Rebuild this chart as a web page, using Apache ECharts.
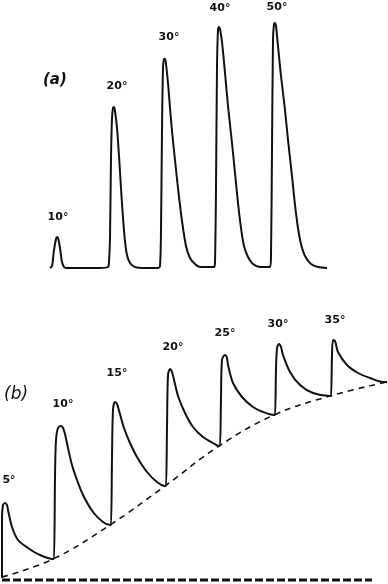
<!DOCTYPE html>
<html><head><meta charset="utf-8">
<script src="https://cdn.jsdelivr.net/npm/echarts@6/dist/echarts.min.js"></script>
<style>html,body{margin:0;padding:0;background:#fff}#c{width:388px;height:584px}</style>
</head><body><div id="c"></div>
<script>
// Panel (a): time vs. response above baseline
const traceA_t = [50,52,54,56,57,58,60,62,64,66,80,100,108,
  109,110,111,112,113,114,115,117,119,121,123,125,127,130,135,145,158,
  160,161,162,163,164,165,166,168,170,172,175,178,182,186,190,195,200,214,
  215,216,217,218,219,220,222,225,228,232,235,238,241,244,248,253,260,270,
  271,272,273,274,275,276,277,279,281,285,288,292,295,298,301,305,311,318,327];
const traceA_r = [0,2,18,29,31,30,20,6,1,0,0,0,1,
  6,30,110,150,160,161,157,140,112,80,50,27,13,5,1,0,0,
  2,38,138,200,209,209,204,185,160,137,108,80,47,22,10,4,1,1,
  6,80,200,238,241,239,226,195,162,125,95,65,40,22,11,4,1,1,
  13,118,228,244,245,242,232,212,192,158,128,92,63,40,24,12,4,1,0];
const labelsA = ['10°','20°','30°','40°','50°'];
const labelA_t = [58,117,169,220,277];
const labelA_r = [51,182,231,260,261];

// Panel (b): time vs. response above lower dashed base
const traceB_t = [2,2,3,5,7,8,12,18,28,40,53,
  54,55,56,58,61,63,65,68,72,77,83,93,103,110,
  111,112,113,115,117,120,124,130,137,147,157,165,
  166,167,168,170,172,175,178,185,193,203,213,219,
  220,221,222,225,227,228,233,242,253,263,274,
  275,276,277,279,281,283,290,300,313,330,
  331,332,333,335,338,347,358,370,383,387];
const traceB_r = [0,58,73,75,73,68,51,38,30,23,19,
  19,100,138,150,152,150,144,130,113,98,83,66,56,53,
  53,120,168,176,174,164,150,135,121,106,96,92,
  92,150,203,209,206,194,182,165,151,141,135,132,
  132,180,218,223,220,213,195,181,171,166,163,
  163,208,230,234,231,223,206,193,185,182,
  182,223,238,237,226,213,205,200,196,196];
const baseB_t = [2,53,110,165,219,274,330,387];
const baseB_r = [1,19,53,92,132,163,182,196];
const floorB_t = [2,372];
const floorB_r = [-2,-2];
const labelsB = ['5°','10°','15°','20°','25°','30°','35°'];
const labelB_t = [9,63,117,173,225,278,335];
const labelB_r = [98,174,205,231,245,254,258];

const zip = (a,b) => a.map((v,i)=>[v,b[i]]);
const ink = '#111';
const chart = echarts.init(document.getElementById('c'), null, {renderer:'canvas'});
const hiddenAxis = (gi, min, max) => ({gridIndex:gi, type:'value', min, max, show:false});
const lab = {show:true, position:'inside', formatter:'{b}', color:ink, fontSize:11, fontWeight:'bold', fontFamily:'DejaVu Sans'};
chart.setOption({
  animation:false,
  backgroundColor:'#fff',
  grid:[{left:0, top:0, width:388, height:268},{left:0, top:0, width:388, height:578}],
  xAxis:[hiddenAxis(0,0,388), hiddenAxis(1,0,388)],
  yAxis:[hiddenAxis(0,0,268), hiddenAxis(1,0,578)],
  graphic:[
    {type:'text', left:43, top:73, style:{text:'(a)', font:'italic bold 15px "DejaVu Sans"', fill:ink}},
    {type:'text', left:4, top:386, style:{text:'(b)', font:'italic 17px "DejaVu Sans"', fill:ink}}
  ],
  series:[
    {type:'line', xAxisIndex:0, yAxisIndex:0, data:zip(traceA_t,traceA_r), smooth:0.3, symbol:'none',
     lineStyle:{color:ink, width:2}},
    {type:'scatter', xAxisIndex:0, yAxisIndex:0, symbolSize:0, itemStyle:{opacity:1},
     data:labelsA.map((n,i)=>({name:n, value:[labelA_t[i],labelA_r[i]]})), label:lab},
    {type:'line', xAxisIndex:1, yAxisIndex:1, data:zip(traceB_t,traceB_r), smooth:0.3, symbol:'none',
     lineStyle:{color:ink, width:2}},
    {type:'line', xAxisIndex:1, yAxisIndex:1, data:zip(baseB_t,baseB_r), smooth:0.4, symbol:'none',
     lineStyle:{color:ink, width:1.6, type:[6,5]}},
    {type:'line', xAxisIndex:1, yAxisIndex:1, data:zip(floorB_t,floorB_r), symbol:'none', clip:false,
     lineStyle:{color:ink, width:3, type:[8,3]}},
    {type:'scatter', xAxisIndex:1, yAxisIndex:1, symbolSize:0, itemStyle:{opacity:1},
     data:labelsB.map((n,i)=>({name:n, value:[labelB_t[i],labelB_r[i]]})), label:lab}
  ]
});
</script></body></html>
